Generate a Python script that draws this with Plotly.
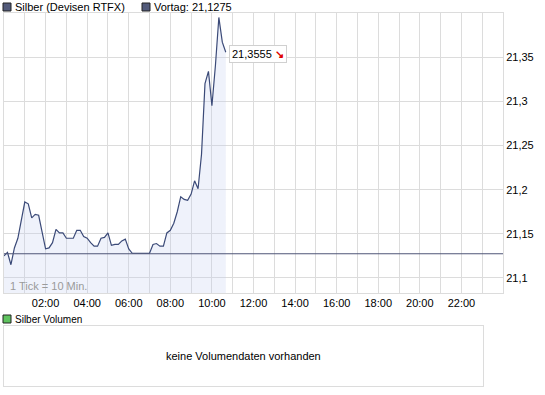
import plotly.graph_objects as go

# ---- data ----
tick_minutes = 10
prices = [
    21.125, 21.129, 21.115, 21.134, 21.145, 21.166, 21.186, 21.184, 21.168, 21.172,
    21.171, 21.152, 21.133, 21.134, 21.140, 21.155, 21.151, 21.151, 21.145, 21.145,
    21.145, 21.154, 21.154, 21.147, 21.145, 21.140, 21.136, 21.136, 21.145, 21.146,
    21.151, 21.137, 21.138, 21.138, 21.142, 21.144, 21.133, 21.128, 21.128, 21.128,
    21.128, 21.128, 21.128, 21.138, 21.139, 21.136, 21.136, 21.151, 21.154, 21.162,
    21.175, 21.192, 21.189, 21.188, 21.195, 21.210, 21.201, 21.240, 21.320, 21.334,
    21.295, 21.340, 21.395, 21.367, 21.3555,
]
times_h = [i * tick_minutes / 60 for i in range(len(prices))]
vortag = 21.1275
hour_ticks = list(range(0, 25))
hour_labels = ["" if (h % 2 or h in (0, 24)) else f"{h:02d}:00" for h in hour_ticks]
y_ticks = [21.1, 21.15, 21.2, 21.25, 21.3, 21.35]
y_labels = ["21,1", "21,15", "21,2", "21,25", "21,3", "21,35"]

W, H = 545, 395
ML, MR, MT, MB = 4, 42, 13, 8
PW, PH = W - ML - MR, H - MT - MB


def px_x(px):
    return (px - ML) / PW


def px_y(py):
    return (H - MB - py) / PH


FONT = "Liberation Sans, Arial, sans-serif"
GRID = "#dcdcdc"
LINE = "#3b4a78"

fig = go.Figure()
fig.add_trace(go.Scatter(
    x=times_h, y=prices, mode="lines",
    line=dict(color=LINE, width=1.2),
    fill="tozeroy", fillcolor="rgba(190,205,240,0.25)",
    hoverinfo="skip", showlegend=False,
))

main_bottom = px_y(293)

fig.update_layout(
    width=W, height=H,
    margin=dict(l=ML, r=MR, t=MT, b=MB),
    paper_bgcolor="white", plot_bgcolor="white",
    font=dict(family=FONT, size=11, color="#000"),
    showlegend=False,
    xaxis=dict(
        domain=[0, 1], range=[0, 24], tickvals=hour_ticks, ticktext=hour_labels,
        showgrid=True, gridcolor=GRID, gridwidth=1, zeroline=False,
        showline=True, mirror=True, linecolor=GRID, ticks="",
        tickfont=dict(size=11), anchor="y", fixedrange=True,
    ),
    yaxis=dict(
        domain=[main_bottom, 1], range=[21.083, 21.40], side="right",
        tickvals=y_ticks, ticktext=y_labels,
        showgrid=True, gridcolor=GRID, gridwidth=1, zeroline=False,
        showline=True, mirror=True, linecolor=GRID, ticks="",
        tickfont=dict(size=11), anchor="x", fixedrange=True,
    ),
    xaxis2=dict(
        domain=[0, px_x(483)], range=[0, 1], showgrid=False, zeroline=False,
        showticklabels=False, ticks="", showline=True, mirror=True,
        linecolor=GRID, anchor="y2", fixedrange=True,
    ),
    yaxis2=dict(
        domain=[px_y(386), px_y(326)], range=[0, 1], showgrid=False, zeroline=False,
        showticklabels=False, ticks="", showline=True, mirror=True,
        linecolor=GRID, anchor="x2", fixedrange=True,
    ),
)

# previous-day reference line
fig.add_shape(type="line", xref="paper", yref="y", x0=0, x1=1, y0=vortag, y1=vortag,
              line=dict(color="#4f5677", width=1.1))

# legend squares
def square(px0, py0, color):
    fig.add_shape(type="rect", xref="paper", yref="paper",
                  x0=px_x(px0), x1=px_x(px0 + 8), y0=px_y(py0 + 8), y1=px_y(py0),
                  fillcolor=color, line=dict(color="#222", width=1))


square(3, 3, "#525a7a")
square(142, 3, "#525a7a")
square(3, 315, "#5fc35f")


def label(px, py, text, size=11, color="#000", anchor="left"):
    fig.add_annotation(xref="paper", yref="paper", x=px_x(px), y=px_y(py), text=text,
                       showarrow=False, xanchor=anchor, yanchor="middle",
                       font=dict(size=size, color=color, family=FONT))


label(13, 7, "Silber (Devisen RTFX)")
label(152, 7, "Vortag: " + f"{vortag:.4f}".replace(".", ","))
label(13, 319, "Silber Volumen", size=10)
label(8, 286, "1 Tick = 10 Min.", size=11, color="#9a9a9a")

fig.add_annotation(xref="x2", yref="y2", x=0.5, y=0.5, text="keine Volumendaten vorhanden",
                   showarrow=False, xanchor="center", yanchor="middle",
                   font=dict(size=11, color="#000", family=FONT))

# last price box
last_txt = f"{prices[-1]:.4f}".replace(".", ",")
fig.add_annotation(x=times_h[-1], y=prices[-1], xref="x", yref="y",
                   text=f"{last_txt} <span style='color:#e00000'><b>↘</b></span>",
                   showarrow=False, xanchor="left", yanchor="middle", xshift=3, yshift=-2,
                   bgcolor="white", bordercolor="#d0d0d0", borderwidth=1, borderpad=2,
                   font=dict(size=11, color="#000", family=FONT))

fig.write_html("out.html", config={"displayModeBar": False},
               post_script="document.body.style.margin='0';")
